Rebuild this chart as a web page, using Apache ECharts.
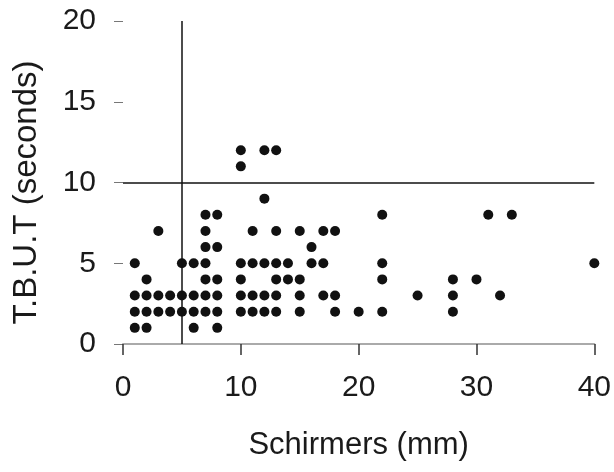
<!DOCTYPE html>
<html>
<head>
<meta charset="utf-8">
<script src="https://cdn.jsdelivr.net/npm/echarts@6/dist/echarts.min.js"></script>
<style>
  html, body { margin: 0; padding: 0; background: #fff; }
  #chart { width: 614px; height: 472px; }
</style>
</head>
<body>
<div id="chart"></div>
<script>
// Schirmer values (mm) grouped by T.B.U.T (seconds)
const tbutLevels = [12, 11, 9, 8, 7, 6, 5, 4, 3, 2, 1];
const schirmersAtLevel = [
    [10, 12, 13],
    [10],
    [12],
    [7, 8, 22, 31, 33],
    [3, 7, 11, 13, 15, 17, 18],
    [7, 8, 16],
    [1, 5, 6, 7, 10, 11, 12, 13, 14, 16, 17, 22, 40],
    [2, 7, 8, 10, 13, 14, 15, 22, 28, 30],
    [1, 2, 3, 4, 5, 6, 7, 8, 10, 11, 12, 13, 15, 17, 18, 25, 28, 32],
    [1, 2, 3, 4, 5, 6, 7, 8, 10, 11, 12, 13, 15, 18, 20, 22, 28],
    [1, 2, 6, 8]
];
const cutoffSchirmers = 5;
const cutoffTbut = 10;

const points = [];
tbutLevels.forEach((t, i) => {
    schirmersAtLevel[i].forEach(s => points.push([s, t]));
});

const font = "'Liberation Sans', Arial, sans-serif";
const chart = echarts.init(document.getElementById("chart"));

chart.setOption({
    animation: false,
    grid: { left: 123, right: 19, top: 21, bottom: 128 },
    xAxis: {
        type: "value",
        min: 0, max: 40, interval: 10,
        name: "Schirmers (mm)",
        nameLocation: "middle",
        nameGap: 86,
        nameTextStyle: { fontFamily: font, fontSize: 31, color: "#1a1a1a" },
        axisLine: { show: true, lineStyle: { color: "#aaa", width: 2 } },
        axisTick: { show: true, length: 11, lineStyle: { color: "#333", width: 1.5 } },
        axisLabel: { margin: 29, fontFamily: font, fontSize: 30, color: "#1a1a1a" },
        splitLine: { show: false }
    },
    yAxis: {
        type: "value",
        min: 0, max: 20, interval: 5,
        name: "T.B.U.T (seconds)",
        nameLocation: "middle",
        nameGap: 80,
        nameTextStyle: { fontFamily: font, fontSize: 33, color: "#1a1a1a", padding: [0, 20, 0, 0] },
        axisLine: { show: false },
        axisTick: { show: true, inside: false, length: 9, lineStyle: { color: "#777", width: 1 } },
        axisLabel: { margin: 27, fontFamily: font, fontSize: 30, color: "#1a1a1a" },
        splitLine: { show: false }
    },
    series: [{
        type: "scatter",
        data: points,
        symbolSize: 10,
        itemStyle: { color: "#111", opacity: 1 },
        markLine: {
            silent: true,
            symbol: "none",
            label: { show: false },
            lineStyle: { color: "#111", width: 1.5, type: "solid" },
            data: [{ xAxis: cutoffSchirmers }, { yAxis: cutoffTbut }]
        }
    }]
});
</script>
</body>
</html>
